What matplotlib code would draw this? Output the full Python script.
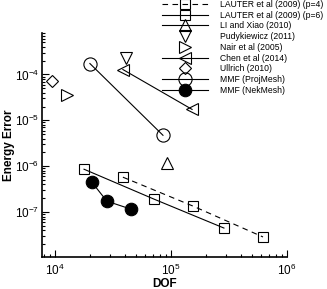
import matplotlib
matplotlib.use("Agg")
import matplotlib.pyplot as plt

plt.rcParams['font.family'] = ['Liberation Sans', 'DejaVu Sans']
plt.rcParams['mathtext.fontset'] = 'custom'
plt.rcParams['mathtext.rm'] = 'Liberation Sans'
plt.rcParams['mathtext.it'] = 'Liberation Sans:italic'

# data (DOF, energy error)
lauter4_dof = [38500, 155000, 621000]
lauter4_err = [5.77e-7, 1.35e-7, 2.87e-8]
lauter6_dof = [17800, 71300, 286000]
lauter6_err = [8.6e-7, 1.92e-7, 4.49e-8]
li_dof = [92500]
li_err = [1.16e-6]
pudy_dof = [40900]
pudy_err = [2.34e-4]
nair_dof = [12700]
nair_err = [3.5e-5]
chen_dof = [38500, 152000]
chen_err = [1.28e-4, 1.73e-5]
ullrich_dof = [9420]
ullrich_err = [7.05e-5]
proj_dof = [20000, 85300]
proj_err = [1.73e-4, 4.72e-6]
nek_dof = [20800, 28000, 45200]
nek_err = [4.49e-7, 1.73e-7, 1.16e-7]

fig = plt.figure(figsize=(3.27, 2.89), dpi=100)
ax = fig.add_axes([0.1284, 0.1107, 0.7493, 0.7751])

lw = 0.8
kw = dict(color='black', lw=lw, mec='black', mew=0.8)
mk = dict(color='black', mec='black', mew=0.8, ls='none')
ax.plot(lauter4_dof, lauter4_err, 's--', mfc='none', ms=7, dashes=(5, 4),
        label='LAUTER et al (2009) (p=4)', **kw)
ax.plot(lauter6_dof, lauter6_err, 's-', mfc='none', ms=7,
        label='LAUTER et al (2009) (p=6)', **kw)
ax.plot(li_dof, li_err, '^-', mfc='none', ms=8, label='LI and Xiao (2010)', **kw)
ax.plot(pudy_dof, pudy_err, 'v', mfc='none', ms=8, label='Pudykiewicz (2011)', **mk)
ax.plot(nair_dof, nair_err, '>', mfc='none', ms=8, label='Nair et al (2005)', **mk)
ax.plot(chen_dof, chen_err, '<-', mfc='none', ms=8, label='Chen et al (2014)', **kw)
ax.plot(ullrich_dof, ullrich_err, 'D', mfc='none', ms=6.5, label='Ullrich (2010)', **mk)
ax.plot(proj_dof, proj_err, 'o-', mfc='none', ms=9.5, label='MMF (ProjMesh)', **kw)
ax.plot(nek_dof, nek_err, 'o-', mfc='black', ms=9, label='MMF (NekMesh)', **kw)

ax.set_xscale('log')
ax.set_yscale('log')
ax.set_xlim(7730, 1e6)
ax.set_ylim(1.05e-8, 8e-4)

for s in ['top', 'right']:
    ax.spines[s].set_visible(False)
for s in ['left', 'bottom']:
    ax.spines[s].set_linewidth(1.2)

ax.tick_params(which='both', direction='in', labelsize=8.5, width=0.8)
ax.tick_params(which='major', length=5)
ax.tick_params(which='minor', length=2.5)
ax.tick_params(axis='x', pad=4)
ax.tick_params(axis='y', pad=2)

ax.set_xlabel('DOF', fontsize=8.5, fontweight='bold', labelpad=0)
ax.set_ylabel('Energy Error', fontsize=8.5, fontweight='bold', labelpad=0)

leg = ax.legend(loc='upper left', bbox_to_anchor=(0.495, 1.0), bbox_transform=fig.transFigure,
                frameon=False, fontsize=6.2, labelspacing=0.2, handlelength=5.3,
                handletextpad=1.4, borderpad=0, borderaxespad=0, numpoints=1)

fig.savefig('out.png', dpi=100)
